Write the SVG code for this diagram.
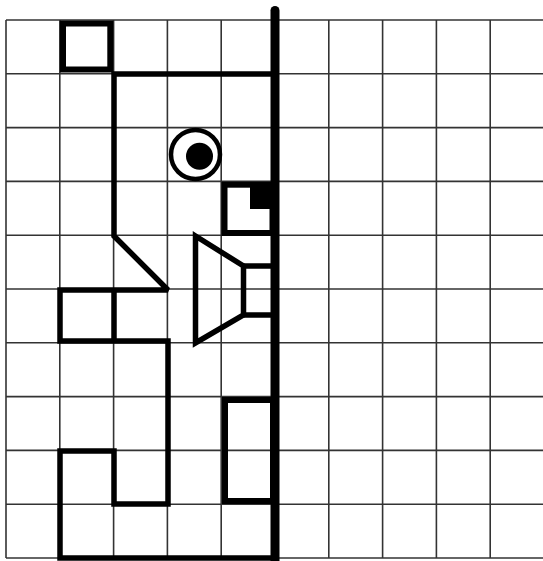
<svg xmlns="http://www.w3.org/2000/svg" width="543" height="561" viewBox="0 0 543 561">
  <style>
    .grid line { stroke: #333; stroke-width: 1.6; }
    .thick { fill: none; stroke: #000; stroke-width: 5.5; stroke-linejoin: miter; stroke-linecap: butt; }
    .box { fill: none; stroke: #000; stroke-width: 6; }
  </style>
  <rect x="0" y="0" width="543" height="561" fill="#fff"/>
  <g id="grid" class="grid">
    <line x1="6" y1="20" x2="543" y2="20"/>
    <line x1="6" y1="73.8" x2="543" y2="73.8"/>
    <line x1="6" y1="127.6" x2="543" y2="127.6"/>
    <line x1="6" y1="181.4" x2="543" y2="181.4"/>
    <line x1="6" y1="235.2" x2="543" y2="235.2"/>
    <line x1="6" y1="289" x2="543" y2="289"/>
    <line x1="6" y1="342.8" x2="543" y2="342.8"/>
    <line x1="6" y1="396.6" x2="543" y2="396.6"/>
    <line x1="6" y1="450.4" x2="543" y2="450.4"/>
    <line x1="6" y1="504.2" x2="543" y2="504.2"/>
    <line x1="6" y1="558" x2="543" y2="558"/>
    <line x1="6" y1="20" x2="6" y2="558"/>
    <line x1="59.8" y1="20" x2="59.8" y2="558"/>
    <line x1="113.6" y1="20" x2="113.6" y2="558"/>
    <line x1="167.4" y1="20" x2="167.4" y2="558"/>
    <line x1="221.2" y1="20" x2="221.2" y2="558"/>
    <line x1="328.8" y1="20" x2="328.8" y2="558"/>
    <line x1="382.6" y1="20" x2="382.6" y2="558"/>
    <line x1="436.4" y1="20" x2="436.4" y2="558"/>
    <line x1="490.2" y1="20" x2="490.2" y2="558"/>
  </g>
  <g id="top-square">
    <rect class="box" x="63" y="23.5" width="47.3" height="46"/>
  </g>
  <g id="outline">
    <path class="thick" stroke-miterlimit="2" d="M275,74 H114 V236 L168,290 H60 V341 H168 V504 H114 V451 H60 V558 H275"/>
    <path class="thick" d="M114,290 V341"/>
  </g>
  <g id="circle">
    <circle cx="195.5" cy="154.5" r="24.5" fill="none" stroke="#000" stroke-width="4.5"/>
    <circle cx="199.5" cy="156.3" r="13.5" fill="#000"/>
  </g>
  <g id="corner-square">
    <rect class="box" x="224.5" y="184.7" width="48" height="48.3"/>
    <rect x="250" y="182" width="25" height="27" fill="#000"/>
  </g>
  <g id="trapezoid">
    <path class="thick" d="M195.5,236 L243.5,266 V315 L195.5,343 Z"/>
    <path class="thick" d="M243.5,266 H275 M243.5,315 H275"/>
  </g>
  <g id="lower-rect">
    <rect class="box" x="225" y="400" width="48" height="101"/>
  </g>
  <g id="axis">
    <line x1="275" y1="10.5" x2="275" y2="565" stroke="#000" stroke-width="9" stroke-linecap="round"/>
  </g>
</svg>
